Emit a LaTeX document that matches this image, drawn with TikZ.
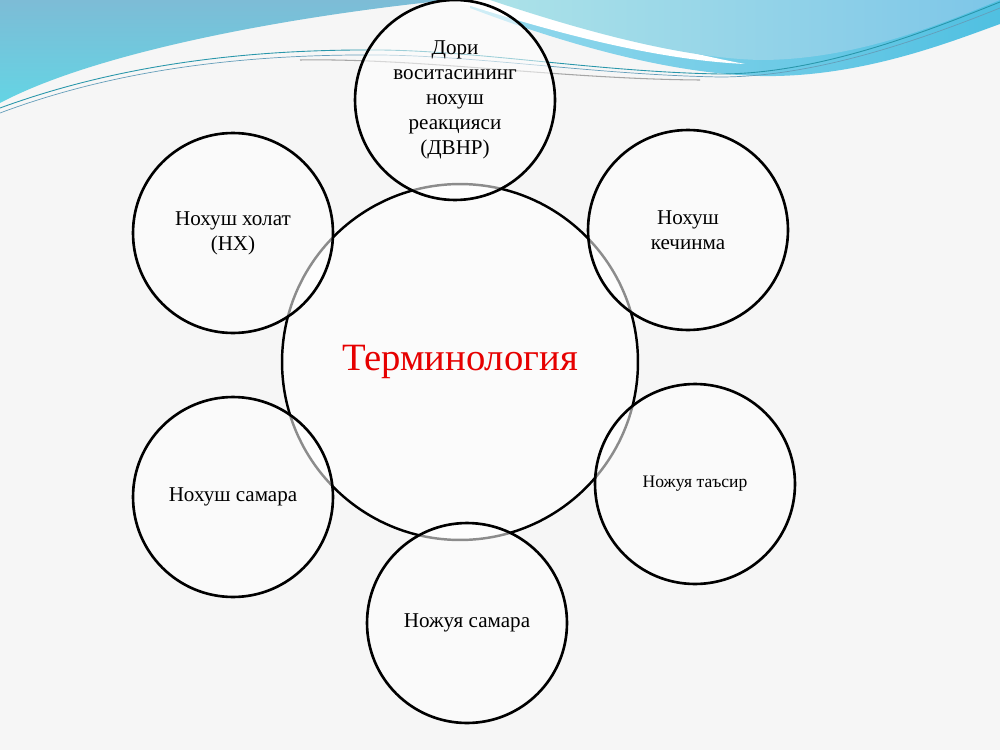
\documentclass[tikz,border=0pt]{standalone}
\usepackage{fontspec}
\setmainfont{Liberation Serif}
\usepackage{tikz}

\definecolor{slidebg}{RGB}{246,246,246}
\definecolor{wavedark}{RGB}{125,188,214}
\definecolor{wavecyan}{RGB}{100,212,228}
\definecolor{wavelight}{RGB}{172,226,232}
\definecolor{waveblue}{RGB}{125,198,232}
\definecolor{bandcyan}{RGB}{80,192,225}
\definecolor{linecol}{RGB}{40,150,170}
\definecolor{termred}{RGB}{230,0,0}

\tikzset{
  term/.style={circle,draw=black,line width=1.4pt,fill=white,fill opacity=0.6,text opacity=1,
    minimum size=7.12cm,inner sep=0pt,text=termred,font=\fontsize{22}{26}\selectfont},
  bubble/.style={circle,draw=black,line width=1.5pt,fill=white,fill opacity=0.55,text opacity=1,
    minimum size=4cm,inner sep=0pt,align=center,font=\fontsize{12}{14.2}\selectfont}
}

\begin{document}
\begin{tikzpicture}[x=0.02cm,y=-0.02cm]
\useasboundingbox (0,0) rectangle (1000,750);
\fill[slidebg] (0,0) rectangle (1000,750);

% waves at the top
\shade[top color=wavedark,bottom color=wavecyan]
  (0,0) -- (0,103) .. controls (100,50) and (300,15) .. (450,0) -- cycle;
\shade[left color=bandcyan!60!white,right color=bandcyan]
  (470,8) .. controls (580,50) and (680,74) .. (760,76) .. controls (860,78) and (950,42) .. (1000,24) -- (1000,0) -- (470,0) -- cycle;
\fill[white]
  (452,0) .. controls (560,35) and (660,60) .. (745,64) .. controls (660,48) and (570,20) .. (510,0) -- cycle;
\shade[left color=wavelight,right color=waveblue]
  (490,0) .. controls (580,30) and (680,58) .. (760,60) .. controls (860,60) and (950,20) .. (1000,0) -- cycle;
\draw[linecol,line width=0.5pt]
  (0,108) .. controls (120,64) and (250,49) .. (380,50) .. controls (480,51) and (600,72) .. (720,74) .. controls (820,74) and (930,30) .. (1000,2);
\draw[waveblue!80!black,line width=0.4pt]
  (0,113) .. controls (120,68) and (250,54) .. (380,55) .. controls (480,56) and (600,75) .. (720,77) .. controls (820,77) and (930,36) .. (1000,8);
\draw[gray!70,line width=0.6pt]
  (300,60) .. controls (420,58) and (560,79) .. (700,80);

% the diagram
\node[term] (centre) at (460,362) {Терминология};
\node[bubble] (dvnr) at (455,100) {Дори\\воситасининг\\нохуш\\реакцияси\\(ДВНР)};
\node[bubble] (nx) at (233,233) {Нохуш холат\\(НХ)};
\node[bubble] (kech) at (688,230) {Нохуш\\кечинма};
\node[bubble,font=\fontsize{10}{12}\selectfont] (tasir) at (695,484) {Ножуя таъсир};
\node[bubble] (nsam) at (467,623) {Ножуя самара};
\node[bubble] (hsam) at (233,497) {Нохуш самара};
\end{tikzpicture}
\end{document}
